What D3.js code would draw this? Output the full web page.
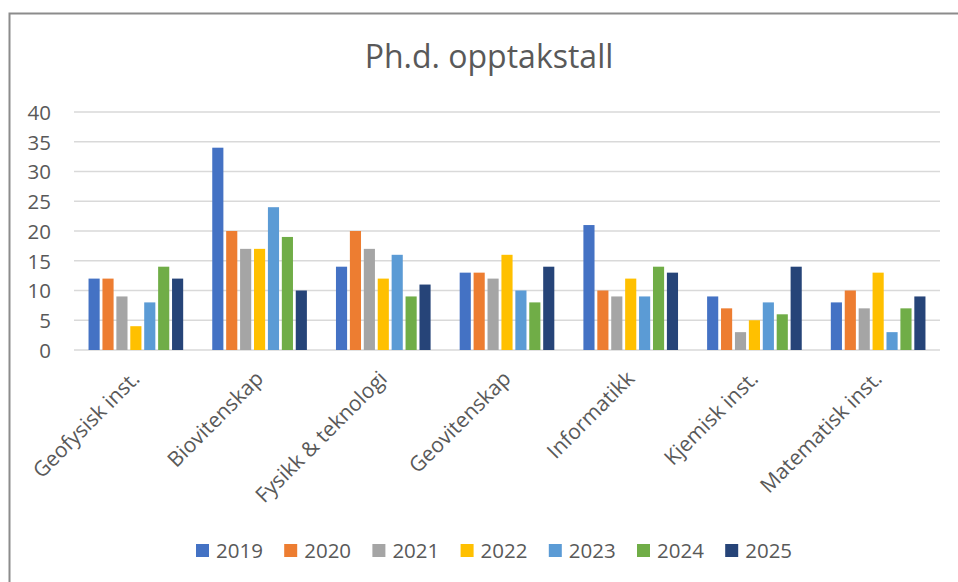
<!DOCTYPE html>
<html lang="no">

<head>
    <meta charset="UTF-8">
    <title>Ph.d. opptakstall</title>
    <script src="https://d3js.org/d3.v7.min.js"></script>
    <style>
        body {
            margin: 0;
            background: #fff;
        }

        svg {
            display: block;
        }

        text {
            font-family: "Open Sans", sans-serif;
            fill: #595959;
        }
    </style>
</head>

<body>
    <script>
        // data
        const categories = ["Geofysisk inst.", "Biovitenskap", "Fysikk & teknologi", "Geovitenskap",
            "Informatikk", "Kjemisk inst.", "Matematisk inst."]
        const years = ["2019", "2020", "2021", "2022", "2023", "2024", "2025"]
        const v2019 = [12, 34, 14, 13, 21, 9, 8]
        const v2020 = [12, 20, 20, 13, 10, 7, 10]
        const v2021 = [9, 17, 17, 12, 9, 3, 7]
        const v2022 = [4, 17, 12, 16, 12, 5, 13]
        const v2023 = [8, 24, 16, 10, 9, 8, 3]
        const v2024 = [14, 19, 9, 8, 14, 6, 7]
        const v2025 = [12, 10, 11, 14, 13, 14, 9]
        const yTicks = [0, 5, 10, 15, 20, 25, 30, 35, 40]
        const colors = ["#4472C4", "#ED7D31", "#A5A5A5", "#FFC000", "#5B9BD5", "#70AD47", "#264478"]

        const series = [v2019, v2020, v2021, v2022, v2023, v2024, v2025]

        const width = 958
        const height = 582
        const margin = { left: 74, right: 18, top: 112, bottom: 232 }

        let svg = d3.select("body").append("svg")
            .attr("width", width)
            .attr("height", height)

        // chart frame (cut off at right & bottom like the screenshot)
        svg.append("rect")
            .attr("x", 9.5).attr("y", 13.5)
            .attr("width", width + 20).attr("height", height + 20)
            .attr("fill", "none")
            .attr("stroke", "#8c8c8c")
            .attr("stroke-width", 2)

        let x = d3.scaleBand()
            .domain(categories)
            .range([margin.left, width - margin.right])
            .paddingInner(0.19)
            .paddingOuter(0.095)

        let xInner = d3.scaleBand()
            .domain(years)
            .range([0, x.bandwidth()])
            .padding(0.2)

        let y = d3.scaleLinear()
            .domain([0, 40])
            .range([height - margin.bottom, margin.top])

        // gridlines
        svg.append("g")
            .selectAll("line")
            .data(yTicks)
            .join("line")
            .attr("x1", margin.left)
            .attr("x2", width - margin.right)
            .attr("y1", d => y(d))
            .attr("y2", d => y(d))
            .attr("stroke", "#d9d9d9")
            .attr("stroke-width", 1.5)

        // y axis labels
        let yAxis = svg.append("g")
            .attr("transform", `translate(${margin.left - 23},0)`)
            .call(d3.axisLeft(y).tickValues(yTicks).tickSize(0).tickPadding(0))
        yAxis.select(".domain").remove()
        yAxis.selectAll("text")
            .style("font-size", "20.5px")
            .attr("fill", "#595959")
            .attr("dy", "0.36em")

        // bars
        let groups = svg.append("g")
            .selectAll("g")
            .data(categories)
            .join("g")
            .attr("transform", d => `translate(${x(d)},0)`)

        groups.selectAll("rect")
            .data((d, i) => years.map((yr, j) => ({ year: yr, value: series[j][i], color: colors[j] })))
            .join("rect")
            .attr("x", d => xInner(d.year))
            .attr("width", xInner.bandwidth())
            .attr("y", d => y(d.value))
            .attr("height", d => y(0) - y(d.value))
            .attr("fill", d => d.color)

        // category labels, rotated
        svg.append("g")
            .selectAll("text")
            .data(categories)
            .join("text")
            .attr("transform", d => `translate(${x(d) + x.bandwidth() / 2 + 5},${y(0) + 30}) rotate(-45)`)
            .attr("text-anchor", "end")
            .style("font-size", "21px")
            .text(d => d)

        // title
        svg.append("text")
            .attr("x", 489)
            .attr("y", 68)
            .attr("text-anchor", "middle")
            .style("font-size", "32px")
            .text("Ph.d. opptakstall")

        // legend
        let legend = svg.append("g")
            .selectAll("g")
            .data(years)
            .join("g")
            .attr("transform", (d, i) => `translate(${196 + i * 88.2},550.5)`)

        legend.append("rect")
            .attr("x", 0).attr("y", -6.5)
            .attr("width", 13).attr("height", 13)
            .attr("fill", (d, i) => colors[i])

        legend.append("text")
            .attr("x", 20)
            .attr("dy", "0.36em")
            .style("font-size", "20.5px")
            .text(d => d)
    </script>
</body>

</html>
